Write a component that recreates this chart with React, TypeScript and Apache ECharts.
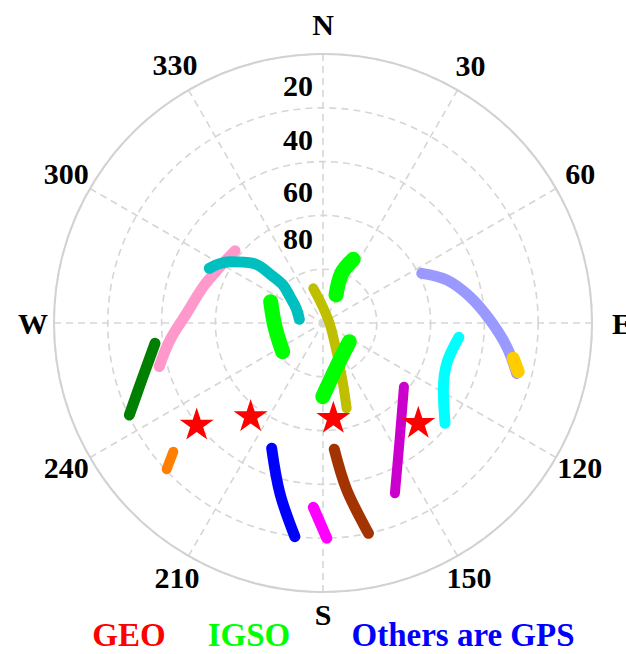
import React, { useEffect, useRef } from "react";
import * as echarts from "echarts";

// Each track: [elevation-scale value (0 = horizon ring, 100 = centre), azimuth deg]
const pinkTrack = [[37.0, 255.1], [42.8, 263.7], [49.2, 274.1], [53.5, 286.9], [56.4, 298.7], [57.7, 309.4]];
const darkGreenTrack = [[37.1, 263.1], [29.6, 252.8], [20.3, 244.6]];
const orangeTrack = [[26.6, 229.3], [20.4, 226.9]];
const tealTrack = [[53.1, 295.7], [55.5, 299.6], [58.6, 303.4], [65.9, 310.6], [74.8, 313.0], [79.5, 313.5], [84.3, 308.6], [88.5, 299.1], [91.1, 278.9]];
const oliveTrack = [[86.6, 344.4], [93.3, 356.8], [97.7, 80.5], [92.5, 147.1], [85.8, 156.8], [76.1, 161.8], [67.1, 164.5]];
const periwinkleTrack = [[58.9, 63.3], [51.3, 70.8], [44.5, 79.9], [37.9, 89.0], [31.1, 97.4], [25.6, 104.6]];
const goldTrack = [[28.1, 100.5], [25.2, 104.0]];
const cyanTrack = [[49.2, 96.0], [51.6, 108.0], [48.8, 119.1], [41.3, 129.4]];
const purpleTrack = [[61.7, 128.2], [48.0, 146.8], [31.3, 157.1]];
const brownTrack = [[52.9, 174.9], [37.3, 171.9], [20.0, 167.8]];
const magentaTrack = [[31.4, 183.0], [20.0, 179.0]];
const blueTrack = [[49.7, 202.3], [34.7, 194.2], [19.9, 187.5]];
const igsoTrackA = [[79.0, 292.2], [82.1, 265.6], [81.6, 234.5]];
const igsoTrackB = [[73.8, 25.4], [80.3, 20.6], [88.5, 24.9]];
const igsoTrackC = [[88.0, 125.4], [83.0, 162.6], [72.6, 180.2]];
const geoPoints = [[40.0, 231.5], [56.5, 218.2], [64.9, 173.7], [49.0, 136.0]];

const angleTicks = [0, 30, 60, 90, 120, 150, 180, 210, 240, 270, 300, 330];
const angleTickLabels = ["N", "30", "60", "E", "120", "150", "S", "210", "240", "W", "300", "330"];
const radiusTickLabels = [20, 40, 60, 80];

const legendLabels = ["GEO", "IGSO", "Others are GPS"];

const FONT = "Liberation Serif";
const STAR =
  "path://M50,0L61.2,34.5L97.6,34.5L68.2,55.9L79.4,90.5L50,69.1L20.6,90.5L31.8,55.9L2.4,34.5L38.8,34.5Z";

// per-label fine placement (padding: top, right, bottom, left)
const anglePads: number[][] = [
  [0, 0, 39, 0], // N
  [0, 0, 30, 10], // 30
  [0, 0, 12, 30], // 60
  [0, 0, 0, 44], // E
  [7, 0, 0, 22], // 120
  [27, 0, 0, 1], // 150
  [31, 0, 0, 0], // S
  [27, 1, 0, 0], // 210
  [7, 22, 0, 0], // 240
  [0, 30, 0, 0], // W
  [0, 22, 12, 0], // 300
  [0, 3, 31, 0], // 330
];
const radiusPads: number[][] = [
  [0, 0, 44, 0],
  [0, 0, 44, 0],
  [0, 0, 48, 0],
  [0, 0, 62, 0],
];

function richStyle(padding: number[]) {
  return { fontFamily: FONT, fontWeight: "bold", fontSize: 30, color: "#000", padding };
}

export default function App() {
  const ref = useRef<HTMLDivElement>(null);
  useEffect(() => {
    if (!ref.current) return;
    const chart = echarts.init(ref.current, null, { renderer: "svg" });

    const track = (name: string, data: number[][], color: string, width: number) => ({
      name,
      type: "line",
      coordinateSystem: "polar",
      data,
      showSymbol: false,
      symbol: "none",
      smooth: 0.35,
      lineStyle: { color, width, cap: "round", join: "round" },
      silent: true,
    });

    const angleRich: Record<string, any> = {};
    anglePads.forEach((p, i) => (angleRich["a" + i] = richStyle(p)));
    const radiusRich: Record<string, any> = {};
    radiusPads.forEach((p, i) => (radiusRich["r" + i] = richStyle(p)));

    const legendText = (i: number, x: number, color: string) => ({
      type: "text",
      x,
      y: 635,
      style: {
        text: legendLabels[i],
        fill: color,
        font: `bold 33px "${FONT}"`,
        textAlign: "center",
        textVerticalAlign: "middle",
        align: "center",
        verticalAlign: "middle",
      },
    });

    chart.setOption({
      animation: false,
      polar: { center: [323, 323], radius: 269 },
      angleAxis: {
        type: "value",
        min: 0,
        max: 360,
        interval: 30,
        startAngle: 90,
        clockwise: true,
        axisLine: { show: true, lineStyle: { color: "#d2d2d2", width: 2 } },
        axisTick: { show: false },
        splitLine: { show: true, lineStyle: { color: "#d6d6d6", width: 1.6, type: [7, 5] } },
        axisLabel: {
          margin: -24,
          fontFamily: FONT,
          fontWeight: "bold",
          fontSize: 30,
          color: "#000",
          formatter: (v: number) => {
            const i = angleTicks.indexOf(v);
            if (i < 0) return "";
            return `{a${i}|${angleTickLabels[i]}}`;
          },
          rich: angleRich,
        },
      },
      radiusAxis: {
        type: "value",
        min: 0,
        max: 100,
        interval: 20,
        inverse: true,
        axisLine: { show: false },
        axisTick: { show: false },
        splitLine: { show: true, lineStyle: { color: "#d6d6d6", width: 1.6, type: [7, 5] } },
        axisLabel: {
          margin: 10,
          fontFamily: FONT,
          fontWeight: "bold",
          fontSize: 30,
          color: "#000",
          formatter: (v: number) => {
            const i = radiusTickLabels.indexOf(v);
            return i >= 0 ? `{r${i}|${v}}` : "";
          },
          rich: radiusRich,
        },
      },
      series: [
        track("pink", pinkTrack, "#ff99cc", 11),
        track("darkgreen", darkGreenTrack, "#007f00", 11),
        track("orange", orangeTrack, "#ff8000", 10),
        track("teal", tealTrack, "#00bfbf", 11),
        track("olive", oliveTrack, "#bfbf00", 10),
        track("periwinkle", periwinkleTrack, "#9999ff", 11),
        track("gold", goldTrack, "#ffcc00", 13),
        track("cyan", cyanTrack, "#00ffff", 11),
        track("purple", purpleTrack, "#cc00cc", 10),
        track("brown", brownTrack, "#a33300", 11),
        track("magenta", magentaTrack, "#ff00ff", 11),
        track("blue", blueTrack, "#0000ff", 11),
        track("IGSO-A", igsoTrackA, "#00ff00", 15),
        track("IGSO-B", igsoTrackB, "#00ff00", 15),
        track("IGSO-C", igsoTrackC, "#00ff00", 15),
        {
          name: "GEO",
          type: "scatter",
          coordinateSystem: "polar",
          data: geoPoints,
          symbol: STAR,
          symbolSize: [34, 32],
          itemStyle: { color: "#ff0000", opacity: 1 },
          silent: true,
          z: 5,
        },
      ],
      graphic: [
        legendText(0, 129, "#ff0000"),
        legendText(1, 249, "#00ff00"),
        legendText(2, 463, "#0000ff"),
      ],
    });
    return () => chart.dispose();
  }, []);
  return (
    <div
      ref={ref}
      style={{ position: "absolute", left: 0, top: 0, width: 626, height: 654 }}
    />
  );
}
